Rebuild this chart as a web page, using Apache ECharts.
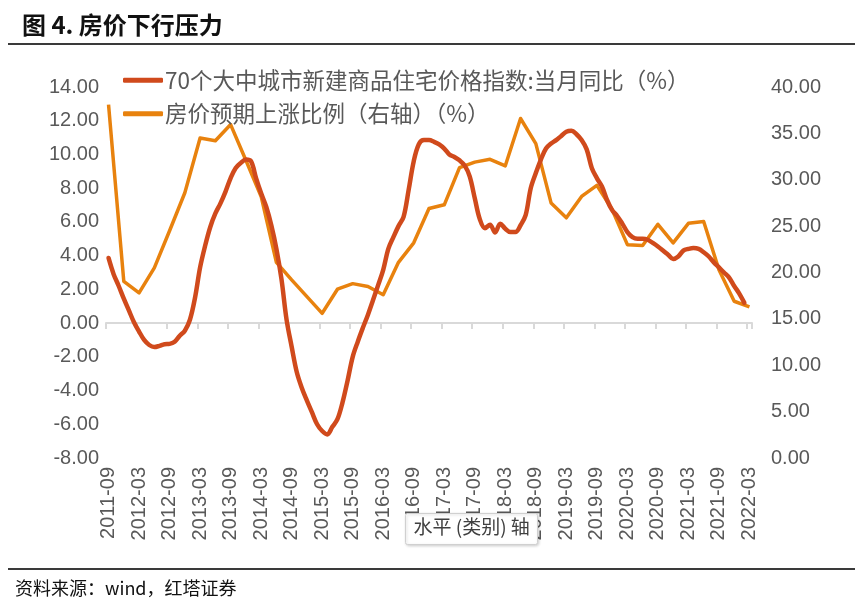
<!DOCTYPE html>
<html>
<head>
<meta charset="utf-8">
<script src="https://cdn.jsdelivr.net/npm/echarts@6/dist/echarts.min.js"></script>
<style>
html,body{margin:0;padding:0;background:#fff;}
#c{width:865px;height:613px;}
</style>
</head>
<body>
<div id="c"></div>
<script>
// Monthly categories 2011-09 .. 2022-03
const startYear = 2011, startMonth = 9, monthCount = 127;
const categories = [];
for (let k = 0; k < monthCount; k++) {
  const m = startMonth - 1 + k;
  const y = startYear + Math.floor(m / 12);
  const mm = (m % 12) + 1;
  categories.push(y + '-' + (mm < 10 ? '0' + mm : '' + mm));
}

const redName = '70个大中城市新建商品住宅价格指数:当月同比（%）';
const orangeName = '房价预期上涨比例（右轴）（%）';

// 70-city new home price index YoY (%), monthly from 2011-09
const redValues = [
  3.86, 2.9, 2.2, 1.45, 0.75, 0.05, -0.5, -1.0, -1.3, -1.42,
  -1.35, -1.25, -1.23, -1.1, -0.75, -0.45, 0.2, 1.5, 3.3, 4.6,
  5.7, 6.5, 7.1, 7.8, 8.6, 9.2, 9.5, 9.7, 9.6, 8.6,
  7.7, 6.9, 5.8, 4.4, 2.6, 0.2, -1.4, -2.9, -3.85, -4.6,
  -5.3, -6.0, -6.4, -6.6, -6.15, -5.7, -4.7, -3.4, -2.0, -1.1,
  -0.28, 0.5, 1.37, 2.25, 3.16, 4.4, 5.1, 5.75, 6.3, 7.9,
  9.6, 10.6, 10.85, 10.85, 10.75, 10.6, 10.35, 10.0, 9.85, 9.65,
  9.35, 8.7, 7.4, 6.15, 5.63, 5.83, 5.37, 5.89, 5.6, 5.4,
  5.4, 5.8, 6.4, 8.0, 8.9, 9.7, 10.35, 10.65, 10.85, 11.1,
  11.35, 11.4, 11.2, 10.85, 10.3, 9.2, 8.6, 8.1, 7.3, 6.7,
  6.35, 5.9, 5.4, 5.1, 5.0, 5.0, 4.94, 4.75, 4.54, 4.3,
  4.05, 3.8, 3.95, 4.3, 4.4, 4.45, 4.4, 4.2, 3.95, 3.6,
  3.3, 3.0, 2.7, 2.2, 1.75, 1.2, null
];

// Share expecting house prices to rise (%), quarterly, right axis
const orangeMonths = [
  '2011-09','2011-12','2012-03','2012-06','2012-09','2012-12','2013-03','2013-06','2013-09','2013-12',
  '2014-03','2014-06','2014-09','2014-12','2015-03','2015-06','2015-09','2015-12','2016-03','2016-06',
  '2016-09','2016-12','2017-03','2017-06','2017-09','2017-12','2018-03','2018-06','2018-09','2018-12',
  '2019-03','2019-06','2019-09','2019-12','2020-03','2020-06','2020-09','2020-12','2021-03','2021-06',
  '2021-09','2021-12','2022-03'
];
const orangeValues = [
  38.1, 19.05, 17.8, 20.5, 24.5, 28.6, 34.5, 34.2, 35.95, 32.1,
  28.2, 21.1, 19.2, 17.4, 15.6, 18.2, 18.8, 18.5, 17.6, 21.1,
  23.2, 26.9, 27.3, 31.3, 31.9, 32.2, 31.5, 36.6, 33.9, 27.5,
  25.9, 28.2, 29.4, 26.8, 23.0, 22.9, 25.2, 23.2, 25.3, 25.5,
  20.3, 16.9, 16.3
];

const leftMin = -8, leftMax = 14, leftStep = 2;
const rightMin = 0, rightMax = 40, rightStep = 5;

const orangeData = orangeMonths.map((m, k) => [m, orangeValues[k]]);

const labelColor = '#595959';
const fontLatin = 'Liberation Sans, Arial, "Noto Sans CJK SC", sans-serif';
const fontCJK = '"Noto Sans CJK SC", "Liberation Sans", sans-serif';

const chart = echarts.init(document.getElementById('c'), null, {renderer: 'canvas'});
chart.setOption({
  backgroundColor: '#ffffff',
  animation: false,
  grid: {left: 106, right: 113, top: 87, bottom: 155, containLabel: false},
  legend: {
    orient: 'vertical',
    left: 118,
    top: 64,
    itemGap: 11,
    itemWidth: 40,
    itemHeight: 5,
    icon: 'roundRect',
    textStyle: {fontSize: 22.5, color: labelColor, fontFamily: fontCJK, padding: [0, 0, 0, -3]},
    data: [redName, orangeName]
  },
  xAxis: [
    {
      type: 'category',
      data: categories,
      boundaryGap: true,
      axisLine: {show: true, onZero: true, onZeroAxisIndex: 0, lineStyle: {color: '#D9D9D9', width: 2}},
      axisTick: {show: true, interval: 5, length: 6, inside: false, lineStyle: {color: '#D9D9D9', width: 2}},
      axisLabel: {show: false},
      splitLine: {show: false}
    },
    {
      type: 'category',
      data: categories,
      boundaryGap: true,
      position: 'bottom',
      axisLine: {show: false, onZero: false},
      axisTick: {show: false},
      axisLabel: {show: true, interval: 5, rotate: 90, margin: 9, fontSize: 20, color: labelColor, fontFamily: fontLatin},
      splitLine: {show: false}
    }
  ],
  yAxis: [
    {
      type: 'value',
      min: leftMin, max: leftMax, interval: leftStep,
      axisLine: {show: false},
      axisTick: {show: false},
      splitLine: {show: false},
      axisLabel: {margin: 7, fontSize: 20, color: labelColor, fontFamily: fontLatin, formatter: v => v.toFixed(2)}
    },
    {
      type: 'value',
      position: 'right',
      min: rightMin, max: rightMax, interval: rightStep,
      axisLine: {show: false},
      axisTick: {show: false},
      splitLine: {show: false},
      axisLabel: {margin: 19, fontSize: 20, color: labelColor, fontFamily: fontLatin, formatter: v => v.toFixed(2)}
    }
  ],
  series: [
    {
      name: redName,
      type: 'line',
      xAxisIndex: 0,
      yAxisIndex: 0,
      data: redValues,
      smooth: 0.35,
      showSymbol: false,
      symbol: 'none',
      z: 3,
      lineStyle: {color: '#D04A1C', width: 4.5, cap: 'round', join: 'round'},
      itemStyle: {color: '#D04A1C'}
    },
    {
      name: orangeName,
      type: 'line',
      xAxisIndex: 0,
      yAxisIndex: 1,
      data: orangeData,
      smooth: false,
      showSymbol: false,
      symbol: 'none',
      connectNulls: true,
      z: 2,
      lineStyle: {color: '#E8820E', width: 3.5, join: 'round'},
      itemStyle: {color: '#E8820E'}
    }
  ],
  graphic: [
    {
      type: 'text', left: 22, top: 13, z: 10,
      style: {text: '图 4. 房价下行压力', fontSize: 24, fontWeight: 'bold', fill: '#111', fontFamily: fontCJK}
    },
    {
      type: 'rect', z: 10,
      shape: {x: 8, y: 43, width: 847, height: 2},
      style: {fill: '#3a3a3a'}
    },
    {
      type: 'rect', z: 10,
      shape: {x: 8, y: 568, width: 847, height: 2},
      style: {fill: '#3a3a3a'}
    },
    {
      type: 'text', left: 15, top: 579, z: 10,
      style: {text: '资料来源：wind，红塔证券', fontSize: 18, fill: '#111', fontFamily: fontCJK}
    },
    {
      type: 'group', z: 100, left: 405, top: 513,
      children: [
        {
          type: 'rect', z: 100,
          shape: {x: 0, y: 0, width: 132, height: 31, r: 2},
          style: {fill: '#ffffff', stroke: '#D0D0D0', lineWidth: 1, shadowBlur: 3, shadowColor: 'rgba(0,0,0,0.18)', shadowOffsetX: 1, shadowOffsetY: 1}
        },
        {
          type: 'text', z: 101, left: 8, top: 4,
          style: {text: '水平 (类别) 轴', fontSize: 19, fill: '#404040', fontFamily: fontCJK}
        }
      ]
    }
  ]
});
</script>
</body>
</html>
